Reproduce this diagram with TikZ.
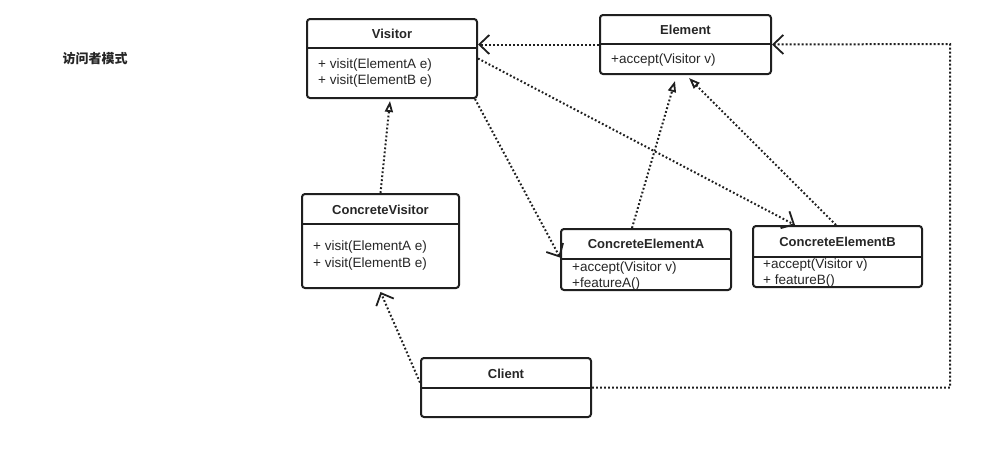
\documentclass[tikz,border=0pt]{standalone}
\usepackage{fontspec}
\setmainfont{Liberation Sans}
\newfontfamily\cjk{Noto Sans CJK SC}
\usetikzlibrary{arrows.meta}
\begin{document}
\begin{tikzpicture}[x=1pt,y=-1pt,
  cls/.style={draw=black!88, line width=2pt, rounded corners=3pt, fill=white, inner sep=0pt},
  divider/.style={draw=black!88, line width=2pt},
  ttl/.style={font=\fontsize{13}{15}\selectfont\bfseries, text=black!85, inner sep=0pt},
  mem/.style={font=\fontsize{13.5}{15}\selectfont, text=black!85, anchor=west, inner sep=0pt},
  dotline/.style={draw=black!88, line width=2pt, dash pattern=on 1.8pt off 2.2pt},
  dep/.style={dotline, -{Straight Barb[length=10pt,width=19pt,line width=1.8pt]}},
  real/.style={dotline, -{Triangle[open,length=11pt,width=8pt,line width=1.8pt]}}
]
\useasboundingbox (0,0) rectangle (985,467);

% title
\node[font=\cjk\bfseries\fontsize{13}{15}\selectfont, text=black!85, inner sep=0pt] (title) at (95,59) {访问者模式};

\coordinate (cr) at (950,44);

% boxes
\node[cls, minimum width=170pt, minimum height=79pt] (visitor) at (392,58.5) {};
\draw[divider] (visitor.west |- 0,48) -- (visitor.east |- 0,48);
\node[ttl] (visitorT) at (392,34) {Visitor};
\node[mem] (visitorM1) at (318,65) {+ visit(ElementA e)};
\node[mem] (visitorM2) at (318,81) {+ visit(ElementB e)};

\node[cls, minimum width=171pt, minimum height=59pt] (element) at (685.5,44.5) {};
\draw[divider] (element.west |- 0,44) -- (element.east |- 0,44);
\node[ttl] (elementT) at (685.5,30) {Element};
\node[mem] (elementM1) at (611,60) {+accept(Visitor v)};

\node[cls, minimum width=157pt, minimum height=94pt] (cv) at (380.5,241) {};
\draw[divider] (cv.west |- 0,224) -- (cv.east |- 0,224);
\node[ttl] (cvT) at (380.5,210) {ConcreteVisitor};
\node[mem] (cvM1) at (313,247) {+ visit(ElementA e)};
\node[mem] (cvM2) at (313,264) {+ visit(ElementB e)};

\node[cls, minimum width=170pt, minimum height=61pt] (cea) at (646,259.5) {};
\draw[divider] (cea.west |- 0,259) -- (cea.east |- 0,259);
\node[ttl] (ceaT) at (646,244) {ConcreteElementA};
\node[mem] (ceaM1) at (572,268) {+accept(Visitor v)};
\node[mem] (ceaM2) at (572,284) {+featureA()};

\node[cls, minimum width=169pt, minimum height=61pt] (ceb) at (837.5,256.5) {};
\draw[divider] (ceb.west |- 0,257) -- (ceb.east |- 0,257);
\node[ttl] (cebT) at (837.5,242) {ConcreteElementB};
\node[mem] (cebM1) at (763,265) {+accept(Visitor v)};
\node[mem] (cebM2) at (763,281) {+ featureB()};

\node[cls, minimum width=170pt, minimum height=59pt] (client) at (506,387.5) {};
\draw[divider] (client.west |- 0,388) -- (client.east |- 0,388);
\node[ttl] (clientT) at (506,374) {Client};

% connectors
\draw[dep] (element.west) -- (visitor.east |- element.west);
\draw[dep] (client.east) -| (cr) -- (element.east);
\draw[dep] (visitor.east) -- ([xshift=-42.5pt]ceb.north);
\draw[dep] ([xshift=-3pt]visitor.south east) -- ([yshift=2pt]cea.west);
\draw[real] (cv.north) -- ([xshift=-2pt,yshift=-2pt]visitor.south);
\draw[real] ([xshift=-14pt]cea.north) -- ([xshift=-10.5pt,yshift=-6pt]element.south);
\draw[real] ([xshift=-1.5pt]ceb.north) -- ([xshift=3.5pt,yshift=-3pt]element.south);
\draw[dep] ([yshift=5pt]client.west) -- ([yshift=-3pt]cv.south);
\end{tikzpicture}
\end{document}
